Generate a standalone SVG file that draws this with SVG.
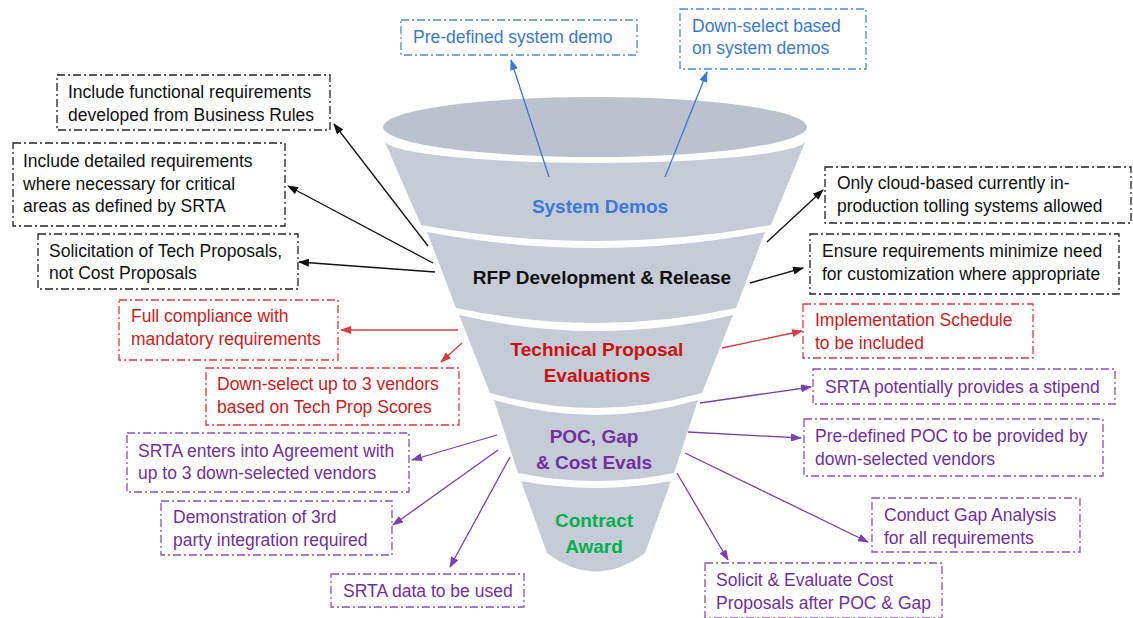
<svg xmlns="http://www.w3.org/2000/svg" width="1133" height="618" viewBox="0 0 1133 618">
<style>
text{font-family:"Liberation Sans",Arial,sans-serif;font-size:17.5px}
.lbl{font-weight:bold;font-size:19px;text-anchor:middle}
.box{fill:#fff;stroke-width:1.3;stroke-dasharray:8 3 2 3}
.bk .box{stroke:#222}.bk text{fill:#111}
.rd .box{stroke:#e0393e}.rd text{fill:#d11a1a}
.pu .box{stroke:#8a4fc2}.pu text{fill:#7030a0}
.bl .box{stroke:#4a86e8}.bl text{fill:#3a78d8}
.c{fill:none;stroke-width:1.3}
.seg{fill:#c5ccd6}
</style>
<defs>
<marker id="ak" markerUnits="userSpaceOnUse" markerWidth="11" markerHeight="8" refX="10" refY="4" orient="auto"><path d="M0,0 L11,4 L0,8 z" fill="#111"/></marker>
<marker id="ar" markerUnits="userSpaceOnUse" markerWidth="11" markerHeight="8" refX="10" refY="4" orient="auto"><path d="M0,0 L11,4 L0,8 z" fill="#e0393e"/></marker>
<marker id="ap" markerUnits="userSpaceOnUse" markerWidth="11" markerHeight="8" refX="10" refY="4" orient="auto"><path d="M0,0 L11,4 L0,8 z" fill="#7a3fb5"/></marker>
<marker id="ab" markerUnits="userSpaceOnUse" markerWidth="11" markerHeight="8" refX="10" refY="4" orient="auto"><path d="M0,0 L11,4 L0,8 z" fill="#3a78d8"/></marker>
</defs>

<g id="funnel">
<ellipse cx="595" cy="127" rx="212" ry="30" fill="#b9c2cd"/>
<path class="seg" d="M384,140 A211,23 0 0 0 806,140 L771,225 Q596,257 421,225 Z"/>
<path class="seg" d="M427,232 Q596,264 765,232 L736,308 Q596,338 456,308 Z"/>
<path class="seg" d="M459,315 Q596,347 733,315 L702,393 Q596,423 490,393 Z"/>
<path class="seg" d="M494,400 Q596,430 698,400 L674,473 Q596,489 518,473 Z"/>
<path class="seg" d="M521,481 Q596,495 671,481 L645,553 Q596,590 547,553 Z"/>
</g>

<g id="stage-labels">
<text id="s1" class="lbl" x="600" y="213" fill="#3a78e0">System Demos</text>
<text id="s2" class="lbl" x="602" y="284" fill="#111">RFP Development &amp; Release</text>
<text id="s3" class="lbl" fill="#cc1111"><tspan x="597" y="356">Technical Proposal</tspan><tspan x="597" y="382">Evaluations</tspan></text>
<text id="s4" class="lbl" fill="#7030a0"><tspan x="594" y="443">POC, Gap</tspan><tspan x="594" y="469">&amp; Cost Evals</tspan></text>
<text id="s5" class="lbl" fill="#00b050"><tspan x="594" y="527">Contract</tspan><tspan x="594" y="553">Award</tspan></text>
</g>

<g id="connectors">
<line class="c" x1="549" y1="177" x2="511" y2="60" stroke="#3a78d8" marker-end="url(#ab)"/>
<line class="c" x1="665" y1="177" x2="707" y2="72" stroke="#3a78d8" marker-end="url(#ab)"/>
<line class="c" x1="428" y1="246" x2="334" y2="124" stroke="#111" marker-end="url(#ak)"/>
<line class="c" x1="433" y1="263" x2="288" y2="186" stroke="#111" marker-end="url(#ak)"/>
<line class="c" x1="435" y1="272" x2="299" y2="262" stroke="#111" marker-end="url(#ak)"/>
<line class="c" x1="767" y1="242" x2="823" y2="190" stroke="#111" marker-end="url(#ak)"/>
<line class="c" x1="750" y1="283" x2="803" y2="268" stroke="#111" marker-end="url(#ak)"/>
<line class="c" x1="458" y1="330" x2="341" y2="330" stroke="#e0393e" marker-end="url(#ar)"/>
<line class="c" x1="462" y1="343" x2="441" y2="362" stroke="#e0393e" marker-end="url(#ar)"/>
<line class="c" x1="722" y1="348" x2="802" y2="331" stroke="#e0393e" marker-end="url(#ar)"/>
<line class="c" x1="700" y1="403" x2="811" y2="387" stroke="#7a3fb5" marker-end="url(#ap)"/>
<line class="c" x1="688" y1="432" x2="801" y2="438" stroke="#7a3fb5" marker-end="url(#ap)"/>
<line class="c" x1="685" y1="453" x2="868" y2="542" stroke="#7a3fb5" marker-end="url(#ap)"/>
<line class="c" x1="677" y1="473" x2="728" y2="560" stroke="#7a3fb5" marker-end="url(#ap)"/>
<line class="c" x1="497" y1="435" x2="412" y2="460" stroke="#7a3fb5" marker-end="url(#ap)"/>
<line class="c" x1="498" y1="450" x2="393" y2="525" stroke="#7a3fb5" marker-end="url(#ap)"/>
<line class="c" x1="510" y1="457" x2="450" y2="567" stroke="#7a3fb5" marker-end="url(#ap)"/>
</g>

<g id="n-predefined-demo" class="bl"><rect class="box" x="401" y="20" width="236" height="35"/><text x="413" y="43">Pre-defined system demo</text></g>
<g id="n-downselect-demos" class="bl"><rect class="box" x="680" y="9" width="186" height="60"/><text x="692" y="32">Down-select based</text><text x="692" y="54">on system demos</text></g>

<g id="n-functional" class="bk"><rect class="box" x="57" y="75" width="273" height="55"/><text x="68" y="98">Include functional requirements</text><text x="68" y="121">developed from Business Rules</text></g>
<g id="n-detailed" class="bk"><rect class="box" x="13" y="143" width="272" height="83"/><text x="23" y="167">Include detailed requirements</text><text x="23" y="190">where necessary for critical</text><text x="23" y="212">areas as defined by SRTA</text></g>
<g id="n-solicitation" class="bk"><rect class="box" x="38" y="234" width="260" height="55"/><text x="49" y="257">Solicitation of Tech Proposals,</text><text x="49" y="279">not Cost Proposals</text></g>
<g id="n-cloud" class="bk"><rect class="box" x="825" y="167" width="306" height="56"/><text x="837" y="189">Only cloud-based currently in-</text><text x="837" y="212">production tolling systems allowed</text></g>
<g id="n-customization" class="bk"><rect class="box" x="810" y="234" width="309" height="60"/><text x="822" y="257">Ensure requirements minimize need</text><text x="822" y="280">for customization where appropriate</text></g>

<g id="n-compliance" class="rd"><rect class="box" x="119" y="300" width="219" height="60"/><text x="131" y="322">Full compliance with</text><text x="131" y="345">mandatory requirements</text></g>
<g id="n-downselect-3" class="rd"><rect class="box" x="206" y="368" width="253" height="57"/><text x="217" y="390">Down-select up to 3 vendors</text><text x="217" y="413">based on Tech Prop Scores</text></g>
<g id="n-schedule" class="rd"><rect class="box" x="803" y="304" width="230" height="54"/><text x="815" y="326">Implementation Schedule</text><text x="815" y="349">to be included</text></g>

<g id="n-stipend" class="pu"><rect class="box" x="813" y="369" width="302" height="35"/><text x="825" y="393">SRTA potentially provides a stipend</text></g>
<g id="n-poc" class="pu"><rect class="box" x="804" y="419" width="299" height="57"/><text x="815" y="442">Pre-defined POC to be provided by</text><text x="815" y="465">down-selected vendors</text></g>
<g id="n-gap" class="pu"><rect class="box" x="872" y="498" width="208" height="54"/><text x="884" y="521">Conduct Gap Analysis</text><text x="884" y="544">for all requirements</text></g>
<g id="n-cost" class="pu"><rect class="box" x="705" y="563" width="237" height="55"/><text x="716" y="586">Solicit &amp; Evaluate Cost</text><text x="716" y="609">Proposals after POC &amp; Gap</text></g>
<g id="n-agreement" class="pu"><rect class="box" x="127" y="433" width="282" height="59"/><text x="138" y="457">SRTA enters into Agreement with</text><text x="138" y="479">up to 3 down-selected vendors</text></g>
<g id="n-demonstration" class="pu"><rect class="box" x="161" y="501" width="231" height="54"/><text x="173" y="523">Demonstration of 3rd</text><text x="173" y="546">party integration required</text></g>
<g id="n-data" class="pu"><rect class="box" x="331" y="574" width="193" height="33"/><text x="343" y="597">SRTA data to be used</text></g>
</svg>
